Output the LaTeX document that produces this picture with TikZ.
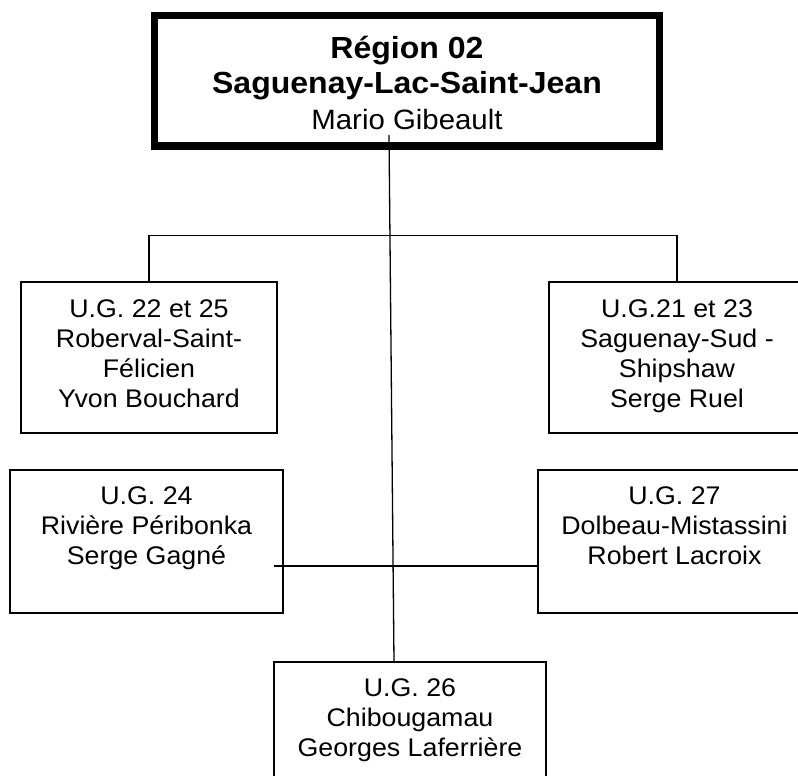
\documentclass[tikz,border=0pt]{standalone}
\usepackage{fontspec}
\setmainfont{Liberation Sans}[FakeStretch=1.05]
\usepackage{tikz}

\begin{document}
\begin{tikzpicture}[x=1pt, y=-1pt]
\tikzstyle{ugbox}=[draw, line width=1.3pt, inner sep=0pt,
                   minimum width=256pt, minimum height=151pt]
\tikzstyle{ugtext}=[align=center, anchor=north, inner sep=0pt,
                    font=\fontsize{25.5}{30}\selectfont]
\clip (0,0) rectangle (798,776);
% region box with heavy frame
\node[draw, line width=7.5pt, inner sep=0pt,
      minimum width=505pt, minimum height=130.5pt] (R) at (407,80.75) {};
\node[align=center, anchor=north, inner sep=0pt,
      font=\fontsize{30.5}{35.5}\selectfont] (Rt) at (407,35.5)
  {{\bfseries Région 02}\\{\bfseries Saguenay-Lac-Saint-Jean}\\
   {\fontsize{28}{35}\selectfont Mario Gibeault}};
% first row
\node[ugbox] (ug22) at (149,357.5) {};
\node[ugbox] (ug21) at (677,357.5) {};
\node[ugtext] (t22) at (149,299)
  {U.G. 22 et 25\\Roberval-Saint-\\Félicien\\Yvon Bouchard};
\node[ugtext] (t21) at (677,299)
  {U.G.21 et 23\\Saguenay-Sud -\\Shipshaw\\Serge Ruel};
% second row
\node[ugbox, minimum width=273pt, minimum height=143pt] (ug24) at (146.5,541.5) {};
\node[ugbox, minimum width=273pt, minimum height=143pt] (ug27) at (674.5,541.5) {};
\node[ugtext] (t24) at (146.5,486.5)
  {U.G. 24\\Rivière Péribonka\\Serge Gagné};
\node[ugtext] (t27) at (674.5,486.5)
  {U.G. 27\\Dolbeau-Mistassini\\Robert Lacroix};
% bottom box
\node[ugbox, minimum width=272pt, minimum height=143pt] (ug26) at (410,733.5) {};
\node[ugtext] (t26) at (410,678.5)
  {U.G. 26\\Chibougamau\\Georges Laferrière};

\coordinate (vtop) at (389,135);
\coordinate (vbot) at (394,662);
\coordinate (hl) at (274,566);
% links
\draw[line width=1.3pt] (vtop) -- (vbot);
\draw[line width=1.3pt] (ug22.north) -- ++(0,-46) -| (ug21.north);
\draw[line width=1.3pt] (hl) -- (hl -| ug27.west);
\end{tikzpicture}
\end{document}
